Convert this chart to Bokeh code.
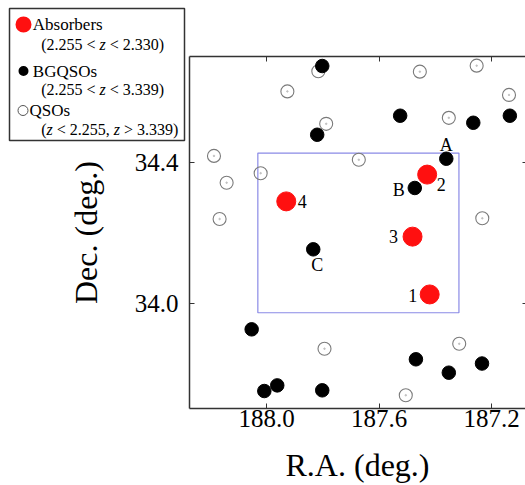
from bokeh.plotting import figure
from bokeh.models import (Range1d, FixedTicker, LinearAxis, Label, BoxAnnotation,
                          ColumnDataSource, PrintfTickFormatter)
from bokeh.core.properties import value
from bokeh.embed import file_html
from bokeh.resources import INLINE

SERIF = "Liberation Serif"

# Absorbers (2.255 < z < 2.330)
abs_ra = [187.420, 187.429, 187.481, 187.930]
abs_dec = [34.025, 34.365, 34.189, 34.289]
abs_id = ["1", "2", "3", "4"]

# Background QSOs (2.255 < z < 3.339)
bg_ra = [187.361, 187.473, 187.834, 187.802, 187.820, 187.525, 187.265, 187.135,
         188.053, 188.008, 187.962, 187.802, 187.469, 187.352, 187.234]
bg_dec = [34.410, 34.327, 34.153, 34.673, 34.478, 34.532, 34.512, 34.532,
          33.926, 33.751, 33.767, 33.753, 33.841, 33.803, 33.829]
bg_id = ["A", "B", "C"] + [""] * 12

# Other QSOs (z < 2.255, z > 3.339)
qso_ra = [187.816, 187.253, 187.455, 187.926, 187.138, 187.788, 187.352, 188.187,
          187.672, 188.021, 188.142, 188.167, 187.233, 187.794, 187.315, 187.505]
qso_dec = [34.658, 34.674, 34.657, 34.601, 34.591, 34.509, 34.526, 34.418,
           34.407, 34.369, 34.342, 34.239, 34.241, 33.871, 33.885, 33.739]

# Survey field outline
field_ra = [188.031, 187.316]
field_dec = [33.973, 34.426]

# Map window (R.A. runs right to left)
ra_east, ra_west = 188.274, 187.072
dec_south, dec_north = 33.701, 34.700

x_ticks = [188.0, 187.6, 187.2]
x_tick_labels = ["188.0", "187.6", "187.2"]
y_ticks = [34.0, 34.4]
y_tick_labels = ["34.0", "34.4"]

# screen offsets (px) of the identifier labels from their markers
label_offset = {"A": (0, -14), "B": (-16, 2), "C": (4, 16),
                "1": (-17, 1), "2": (14, 10), "3": (-19, 0), "4": (16, 0)}

W, H = 525, 485
PX_PER_DEG_X = 281.25
PX_PER_DEG_Y = 352.5
MAP_LEFT, MAP_TOP = 189, 56   # pixel position of the map window's corner
AXIS_COL = "#333333"

# The canvas-wide frame leaves room for the key and axis titles around the map window;
# the axes are pinned to the window's edges.
x_lo = ra_east + MAP_LEFT / PX_PER_DEG_X
x_hi = x_lo - W / PX_PER_DEG_X
y_hi = dec_north + MAP_TOP / PX_PER_DEG_Y
y_lo = y_hi - H / PX_PER_DEG_Y

p = figure(width=W, height=H, output_backend="svg", toolbar_location=None,
           x_range=Range1d(x_lo, x_hi), y_range=Range1d(y_lo, y_hi),
           x_axis_location=None, y_axis_location=None, min_border=0)
p.outline_line_color = None
p.background_fill_color = "white"
p.border_fill_color = "white"
p.grid.visible = False


def make_axis(ticks, labels, loc, bounds, show_labels, title=None, line=True):
    ax = LinearAxis(ticker=FixedTicker(ticks=ticks), fixed_location=loc, bounds=bounds,
                    formatter=PrintfTickFormatter(format="%.1f"),
                    major_label_overrides=dict(zip(ticks, labels)))
    ax.axis_line_color = AXIS_COL if line else None
    ax.axis_line_width = 1.5
    ax.major_tick_in = 5
    ax.major_tick_out = 0
    ax.major_tick_line_color = AXIS_COL
    ax.major_tick_line_width = 1
    ax.minor_tick_line_color = None
    ax.major_label_text_font = SERIF
    ax.major_label_text_font_size = "25px"
    ax.major_label_text_color = "black" if show_labels else None
    if title:
        ax.axis_label = title
        ax.axis_label_text_font = SERIF
        ax.axis_label_text_font_size = "32px"
        ax.axis_label_text_font_style = "normal"
        ax.axis_label_text_color = "black"
    return ax


ra_bounds = (ra_west, ra_east)
dec_bounds = (dec_south, dec_north)

bottom = make_axis(x_ticks, x_tick_labels, dec_south, ra_bounds, True, "R.A. (deg.)")
bottom.major_label_standoff = 1
bottom.axis_label_standoff = 17
p.add_layout(bottom, "below")

top = make_axis(x_ticks, x_tick_labels, dec_north, ra_bounds, False)
p.add_layout(top, "above")

left = make_axis(y_ticks, y_tick_labels, ra_east, dec_bounds, True, "Dec. (deg.)")
left.major_label_standoff = 11
left.axis_label_standoff = 28
p.add_layout(left, "left")

right = make_axis(y_ticks, y_tick_labels, ra_west, dec_bounds, False, line=False)
p.add_layout(right, "right")

# field outline
p.quad(left=[field_ra[0]], right=[field_ra[1]], bottom=[field_dec[0]], top=[field_dec[1]],
       fill_color=None, line_color="#8a8ae6", line_width=1.2)

# other QSOs: open circles with a faint centre dot
p.scatter(qso_ra, qso_dec, size=13, fill_color="white", fill_alpha=0.0,
          line_color="#7a7a7a", line_width=1.1)
p.scatter(qso_ra, qso_dec, size=1.5, color="#c0c0c0")

# background QSOs
p.scatter(bg_ra, bg_dec, size=13.5, color="black")

# absorbers
p.scatter(abs_ra, abs_dec, size=19, color="#ff1010")

# identifier labels
lx, ly, lt, ldx, ldy = [], [], [], [], []
for ra, dec, name in list(zip(bg_ra, bg_dec, bg_id)) + list(zip(abs_ra, abs_dec, abs_id)):
    if name:
        lx.append(ra)
        ly.append(dec)
        lt.append(name)
        ldx.append(label_offset[name][0])
        ldy.append(label_offset[name][1])
p.text(x="x", y="y", text="t", x_offset="dx", y_offset="dy",
       source=ColumnDataSource(dict(x=lx, y=ly, t=lt, dx=ldx, dy=ldy)),
       text_font=value(SERIF), text_font_size="18px", text_color="black",
       text_align="center", text_baseline="middle")


# ---- key in the upper-left corner (canvas pixels, y measured from the top) ----
def sy(Y):
    return H - Y


def screen_box(l, r, t, b, **kw):
    return BoxAnnotation(left=l, right=r, top=sy(t), bottom=sy(b),
                         left_units="screen", right_units="screen",
                         top_units="screen", bottom_units="screen", **kw)


p.add_layout(screen_box(9, 184, 8, 140, fill_color="white", fill_alpha=1.0,
                        line_color=AXIS_COL, line_alpha=1.0, line_width=1.5))


def dot(cx, cy, r, fill, line, lw=0):
    p.add_layout(screen_box(cx - r, cx + r, cy - r, cy + r, border_radius=r,
                            fill_color=fill, fill_alpha=1.0 if fill else 0.0,
                            line_color=line, line_alpha=1.0, line_width=lw))


dot(23, 24, 8, "#ff1010", None)
dot(23, 70.5, 5, "black", None)
dot(22.5, 110, 5, None, "#555555", 1)

FS = 16


def txt(X, Y, s, italic=False, size=FS):
    p.add_layout(Label(x=X, y=sy(Y), x_units="screen", y_units="screen", text=s,
                       text_font=SERIF, text_font_size=f"{size}px",
                       text_font_style="italic" if italic else "normal",
                       text_color="black", text_align="left",
                       text_baseline="middle"))


def range_line(X, Y, parts):
    # parts: (text, italic, start position in em)
    for s, it, em in parts:
        txt(X + em * FS, Y, s, it)


txt(32.3, 24, "Absorbers", size=17)
range_line(40.7, 44, [("(2.255 <", False, 0.0), ("z", True, 3.647), ("< 2.330)", False, 4.286)])
txt(32.3, 70.5, "BGQSOs", size=17)
range_line(40.7, 89, [("(2.255 <", False, 0.0), ("z", True, 3.647), ("< 3.339)", False, 4.286)])
txt(29, 109.5, "QSOs", size=17)
range_line(40.7, 129, [("(", False, 0.0), ("z", True, 0.333), ("< 2.255,", False, 0.972),
                       ("z", True, 4.536), ("> 3.339)", False, 5.175)])

open("out.html", "w").write(file_html(p, INLINE))
